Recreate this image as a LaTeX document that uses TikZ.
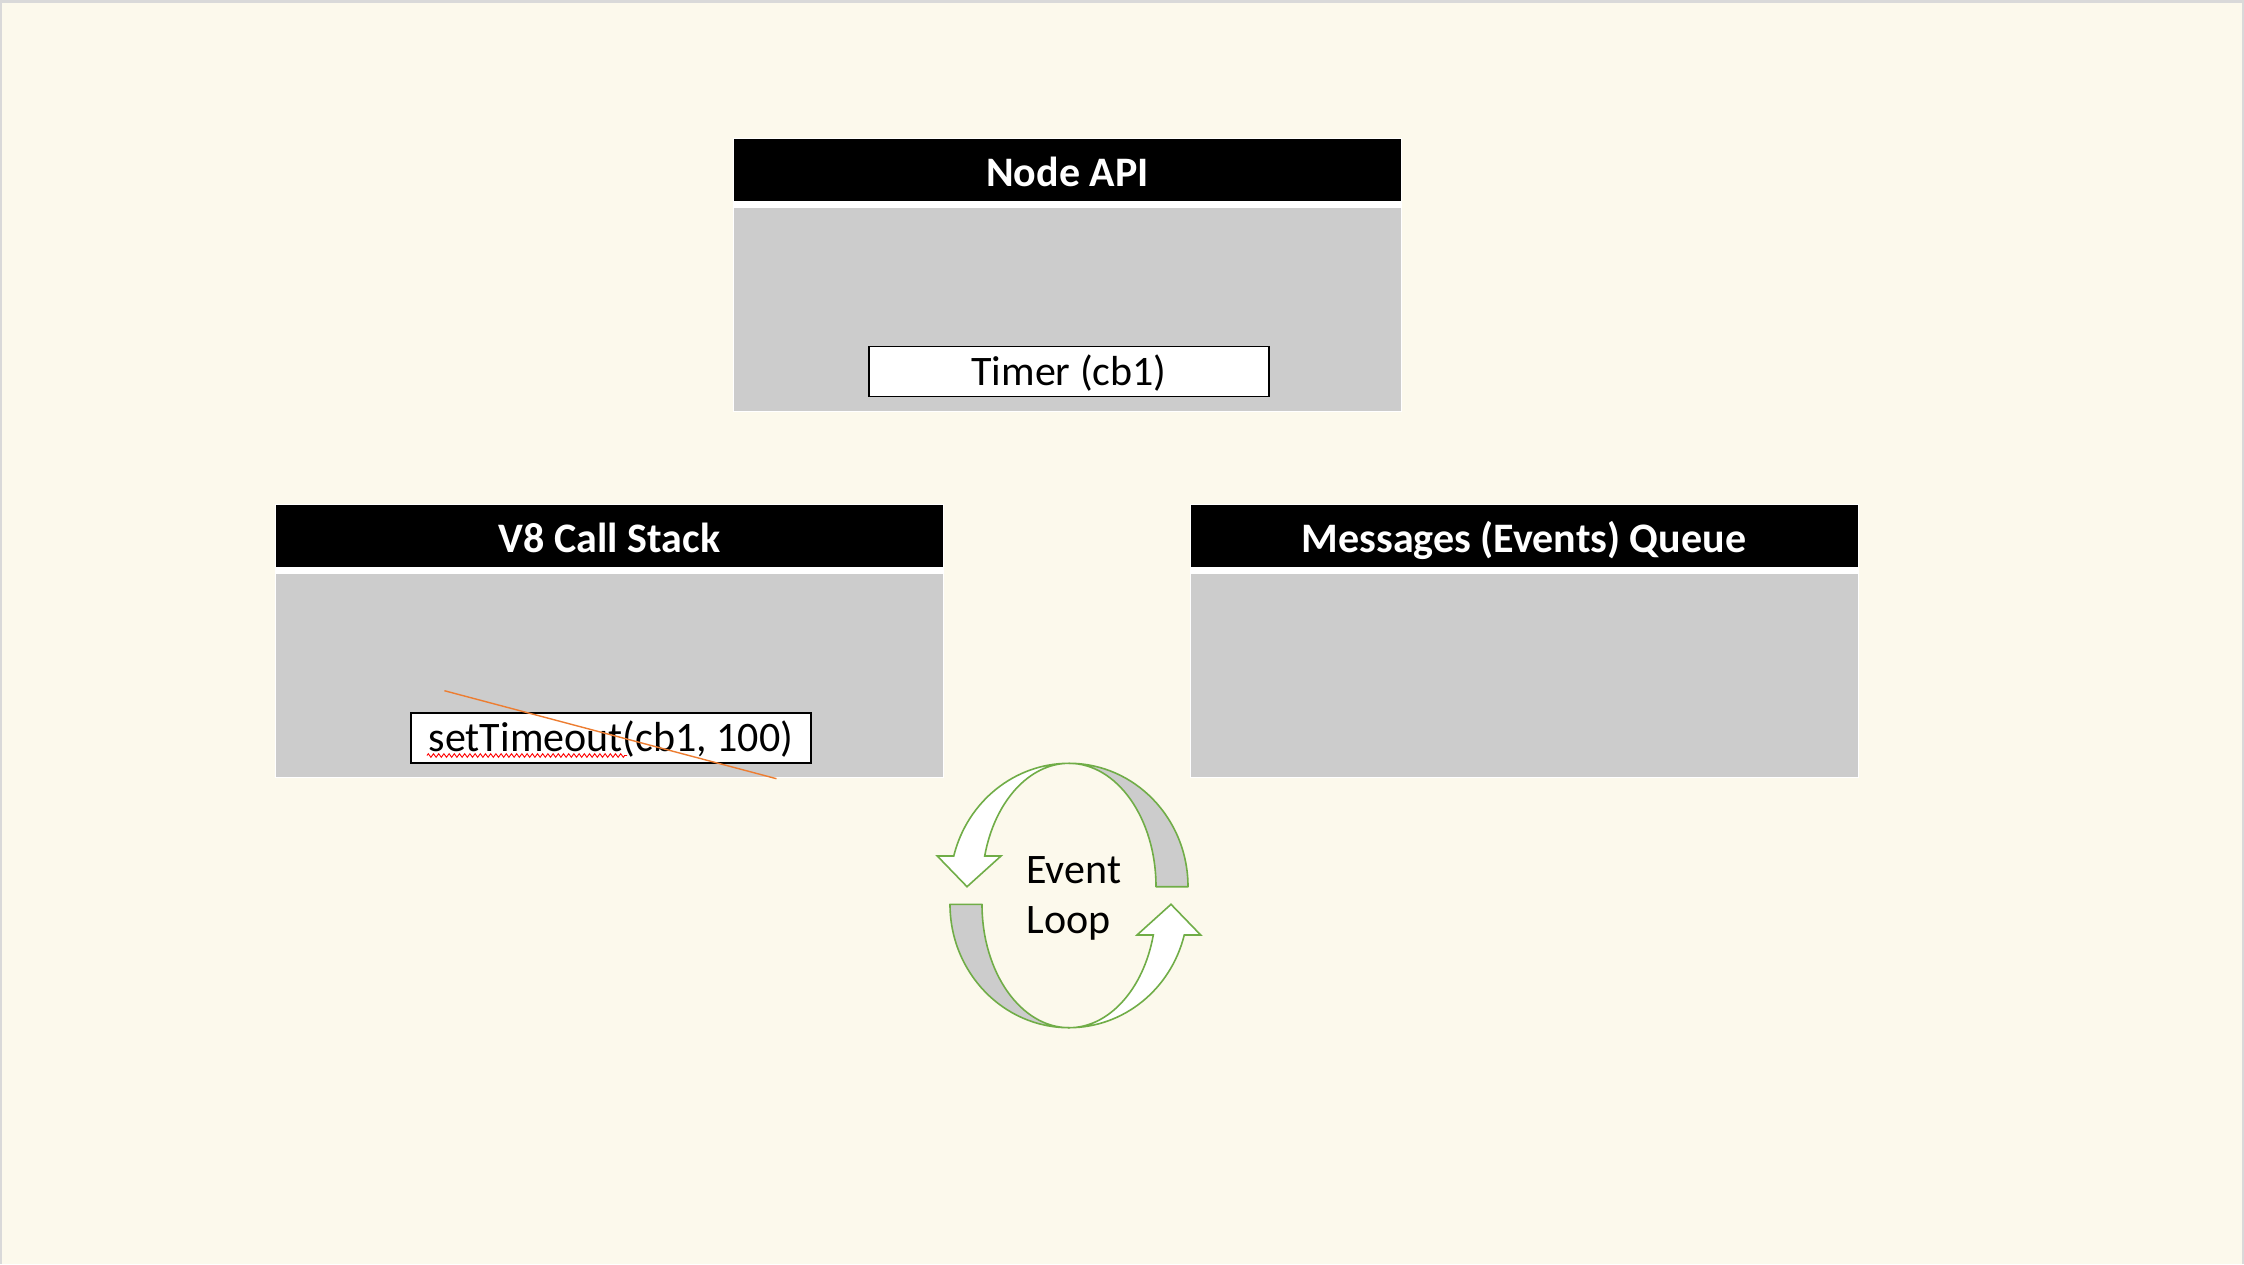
\documentclass[tikz,border=0pt]{standalone}
\usepackage{fontspec}
\setmainfont{Carlito}
\usetikzlibrary{decorations.pathmorphing}
\definecolor{cream}{HTML}{FCF9EC}
\definecolor{framegray}{HTML}{D9D9D9}
\definecolor{bodygray}{HTML}{CCCCCC}
\definecolor{loopgreen}{HTML}{70AD47}
\definecolor{strikeorange}{HTML}{ED7D31}
\newcommand{\evloophalf}{%
  \draw[ribbonback] (1069,763.3) arc[start angle=270, end angle=360, x radius=119, y radius=123.4]
     -- (1156,886.7) arc[start angle=0, end angle=-90, x radius=87, y radius=123.4] -- cycle;
  \draw[ribbonfront] (1069,763.3) arc[start angle=270, end angle=194.4, x radius=119, y radius=123.4]
     -- (937.3,856) -- (967,886.7) -- (1001,856) -- (984.7,856)
     arc[start angle=194.4, end angle=270, x radius=87, y radius=123.4] -- cycle;
}
\begin{document}
\begin{tikzpicture}[x=0.5pt,y=-0.5pt,
  backing/.style={fill=white, draw=none, minimum width=334.5pt, minimum height=137pt, inner sep=0pt},
  header/.style={fill=black, draw=none, minimum width=333.5pt, minimum height=31pt, inner sep=0pt,
     text=white, font=\fontsize{21}{25}\selectfont\bfseries, text height=16.5pt, text depth=0pt},
  panel/.style={fill=bodygray, draw=none, minimum width=333.5pt, minimum height=101.5pt, inner sep=0pt},
  itembox/.style={fill=white, draw=black, line width=0.8pt, minimum width=200pt, minimum height=25pt,
     inner sep=0pt, font=\fontsize{21}{25}\selectfont, text height=13.5pt, text depth=0pt},
  looptext/.style={anchor=base west, inner sep=0pt, font=\fontsize{21}{25}\selectfont},
  ribbonback/.style={fill=bodygray, draw=loopgreen, line width=0.8pt, line join=round},
  ribbonfront/.style={fill=white, draw=loopgreen, line width=0.8pt, line join=miter},
  strikeline/.style={draw=strikeorange, line width=0.7pt},
  squiggle/.style={draw=red, line width=0.45pt, decorate, decoration={zigzag, segment length=2.6pt, amplitude=0.9pt}}
]
\useasboundingbox (0,0) rectangle (2244,1264);
\fill[framegray] (0,0) rectangle (2244,1264);
\fill[cream] (2,3) rectangle (2242,1264);

% Node API
\node[backing] (apiback) at (1067.5,274.5) {};
\node[header] (apihead) at (1067.5,170) {Node API};
\node[panel] (apibody) at (1067.5,309.5) {};
\node[itembox] (timer) at (1069,371.5) {Timer (cb1)};

% V8 Call Stack
\node[backing] (v8back) at (609.5,640.5) {};
\node[header] (v8head) at (609.5,536) {V8 Call Stack};
\node[panel] (v8body) at (609.5,675.5) {};
\node[itembox] (settimeout) at (611,738) {setTimeout(cb1, 100)};

% Messages queue
\node[backing] (qback) at (1524,640.5) {};
\node[header] (qhead) at (1524,536) {Messages (Events) Queue};
\node[panel] (qbody) at (1524,675.5) {};

% strike-through and spelling squiggle
\coordinate (strikeA) at (444.4,690.7);
\coordinate (strikeB) at (776.5,778.7);
\draw[squiggle] (427,755.5) -- (627,755.5);
\draw[strikeline] (strikeA) -- (strikeB);

% Event loop
\evloophalf
\begin{scope}[rotate around={180:(1069,895.5)}]
  \evloophalf
\end{scope}
\node[looptext] (loopA) at (1026,883.3) {Event};
\node[looptext] (loopB) at (1026,933.3) {Loop};
\end{tikzpicture}
\end{document}
